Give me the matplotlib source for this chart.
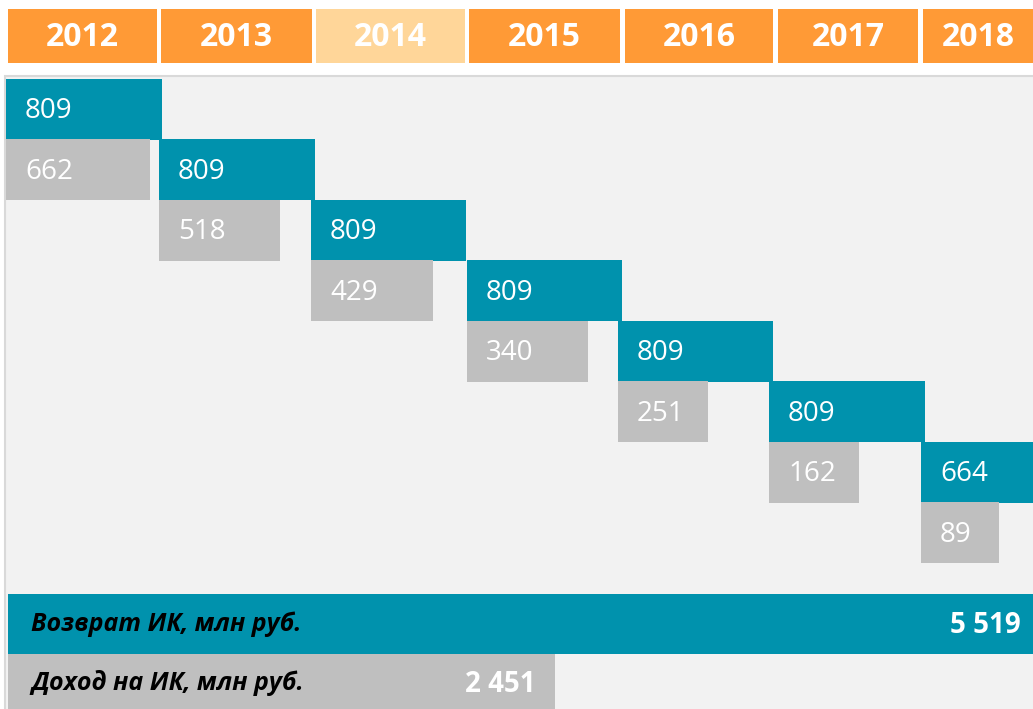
import matplotlib
matplotlib.use("Agg")
import matplotlib.pyplot as plt
from matplotlib.patches import Rectangle

# data
years = ['2012', '2013', '2014', '2015', '2016', '2017', '2018']
returns = [809, 809, 809, 809, 809, 809, 664]
income = [662, 518, 429, 340, 251, 162, 89]
total_labels = ['Возврат ИК, млн руб.', 'Доход на ИК, млн руб.']
totals = [5519, 2451]

# layout (pixels)
head_left = [8, 161, 316, 469, 625, 778, 923]
head_right = [157, 312, 465, 620, 773, 918, 1040]
bar_left = [6, 159, 311, 467, 618, 769, 921]
ret_w = [156, 156, 155, 155, 155, 156, 120]
inc_w = [144, 121, 122, 121, 90, 90, 78]
total_w = [1030, 547]
row0, pitch = 79, 60.5

orange = '#FF9A36'
orange_light = '#FFD699'
teal = '#0092AD'
grey = '#BFBFBF'

plt.rcParams['font.family'] = ['Open Sans', 'DejaVu Sans']

fig = plt.figure(figsize=(10.33, 7.09), dpi=100)
ax = fig.add_axes([0, 0, 1, 1])
ax.set_xlim(0, 1033)
ax.set_ylim(709, 0)
ax.axis('off')

# background panel
ax.add_patch(Rectangle((5, 76), 1040, 640, facecolor='#F2F2F2',
                       edgecolor='#D9D9D9', linewidth=1.5, zorder=0))

# header
hw = [r - l for l, r in zip(head_left, head_right)]
hcol = [orange_light if y == '2014' else orange for y in years]
ax.barh(36, hw, left=head_left, height=54, color=hcol, zorder=2)
for l, w, y in zip(head_left, hw, years):
    xc = l + min(w, 1033 - l) / 2
    ax.text(xc, 38, y, color='white', fontsize=23, fontweight='bold',
            ha='center', va='center', zorder=3)

# staircase
for i in range(len(years)):
    yr = row0 + pitch * i + pitch / 2
    yi = yr + pitch
    ax.barh(yr, ret_w[i], left=bar_left[i], height=pitch + 0.5, color=teal, zorder=2)
    ax.barh(yi, inc_w[i], left=bar_left[i], height=pitch + 0.5, color=grey, zorder=2)
    ax.text(bar_left[i] + 19, yr + 2, str(returns[i]), color='white',
            fontsize=20, ha='left', va='center', zorder=3)
    ax.text(bar_left[i] + 19, yi + 2, str(income[i]), color='white',
            fontsize=20, ha='left', va='center', zorder=3)

# totals
tcol = [teal, grey]
tys = [623.5, 682]
for lab, val, w, c, ty in zip(total_labels, totals, total_w, tcol, tys):
    ax.barh(ty, w, left=8, height=60 if c == teal else 56, color=c, zorder=2)
    ax.text(31, ty + 1, lab, color='black', fontsize=18, fontweight='bold',
            fontstyle='italic', ha='left', va='center', zorder=3)
    ax.text(8 + w - 19 if c == grey else 1021, ty + 2,
            f'{val:,}'.replace(',', ' '), color='white', fontsize=20,
            fontweight='bold', ha='right', va='center', zorder=3)

fig.savefig('out.png', dpi=100)
